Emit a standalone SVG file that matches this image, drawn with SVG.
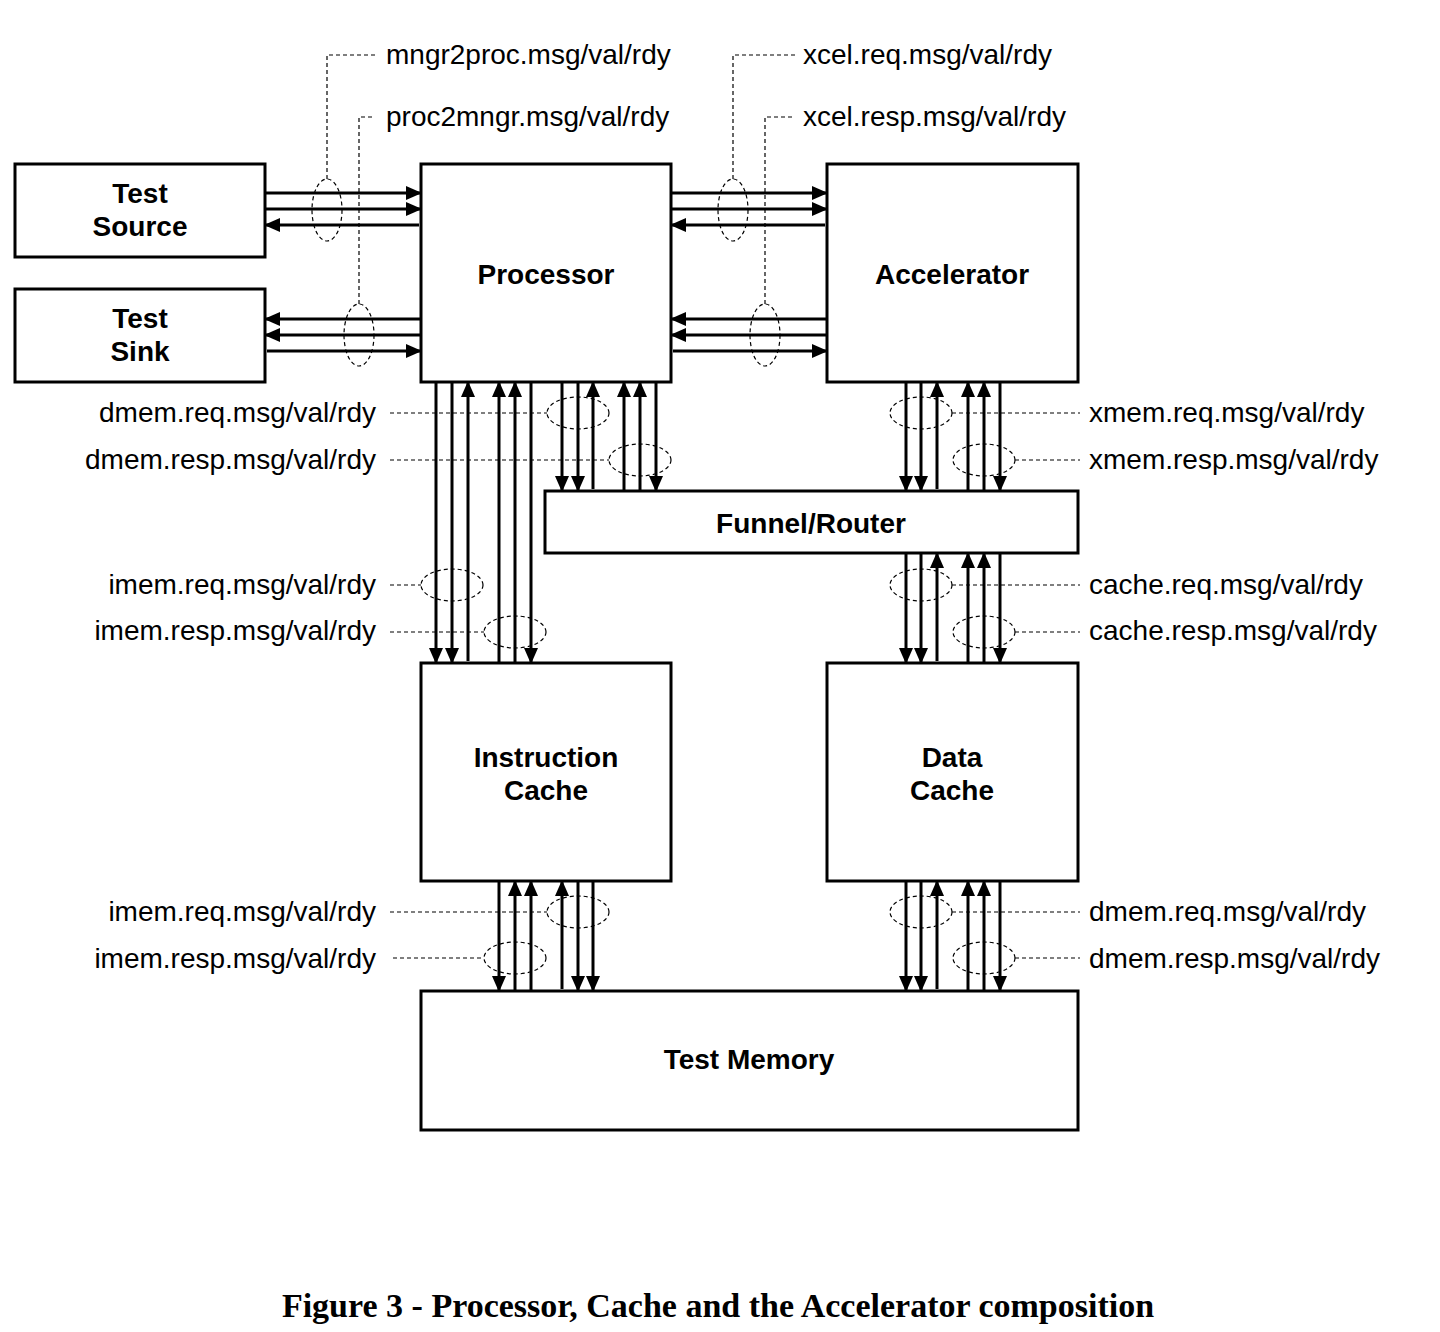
<svg xmlns="http://www.w3.org/2000/svg" width="1440" height="1332" viewBox="0 0 1440 1332">
<defs>
<marker id="ah" markerUnits="userSpaceOnUse" markerWidth="16" markerHeight="14" refX="15" refY="7" orient="auto"><path d="M0,0 L16,7 L0,14 Z" fill="#000"/></marker>
<style>
.box{fill:#fff;stroke:#000;stroke-width:3}
.t{font-family:"Liberation Sans",Arial,sans-serif;font-weight:bold;font-size:28px;text-anchor:middle}
.l{font-family:"Liberation Sans",Arial,sans-serif;font-size:28px}
.r{text-anchor:end}
.w{stroke:#000;stroke-width:3;fill:none}
.a{marker-end:url(#ah)}
.d{stroke:#000;stroke-width:1.2;stroke-dasharray:4,3;fill:none}
</style>
</defs>
<rect width="1440" height="1332" fill="#fff"/>
<g id="connectors">
<g class="w">
<line class="a" x1="265" y1="193" x2="421" y2="193"/>
<line class="a" x1="265" y1="209" x2="421" y2="209"/>
<line class="a" x1="419" y1="225" x2="265" y2="225"/>
<line class="a" x1="421" y1="319" x2="265" y2="319"/>
<line class="a" x1="421" y1="335" x2="265" y2="335"/>
<line class="a" x1="267" y1="351" x2="421" y2="351"/>
<line class="a" x1="671" y1="193" x2="827" y2="193"/>
<line class="a" x1="671" y1="209" x2="827" y2="209"/>
<line class="a" x1="825" y1="225" x2="671" y2="225"/>
<line class="a" x1="827" y1="319" x2="671" y2="319"/>
<line class="a" x1="827" y1="335" x2="671" y2="335"/>
<line class="a" x1="673" y1="351" x2="827" y2="351"/>
<!-- proc to icache -->
<line class="a" x1="436" y1="382" x2="436" y2="663"/>
<line class="a" x1="452" y1="382" x2="452" y2="663"/>
<line class="a" x1="468" y1="661" x2="468" y2="382"/>
<line class="a" x1="499" y1="663" x2="499" y2="382"/>
<line class="a" x1="515" y1="663" x2="515" y2="382"/>
<line class="a" x1="531" y1="382" x2="531" y2="663"/>
<!-- proc to funnel -->
<line class="a" x1="562" y1="382" x2="562" y2="491"/>
<line class="a" x1="578" y1="382" x2="578" y2="491"/>
<line class="a" x1="593" y1="489" x2="593" y2="382"/>
<line class="a" x1="624" y1="491" x2="624" y2="382"/>
<line class="a" x1="640" y1="491" x2="640" y2="382"/>
<line class="a" x1="656" y1="382" x2="656" y2="491"/>
<!-- accel to funnel -->
<line class="a" x1="906" y1="382" x2="906" y2="491"/>
<line class="a" x1="921" y1="382" x2="921" y2="491"/>
<line class="a" x1="937" y1="489" x2="937" y2="382"/>
<line class="a" x1="968" y1="491" x2="968" y2="382"/>
<line class="a" x1="984" y1="491" x2="984" y2="382"/>
<line class="a" x1="1000" y1="382" x2="1000" y2="491"/>
<!-- funnel to dcache -->
<line class="a" x1="906" y1="553" x2="906" y2="663"/>
<line class="a" x1="921" y1="553" x2="921" y2="663"/>
<line class="a" x1="937" y1="661" x2="937" y2="553"/>
<line class="a" x1="968" y1="663" x2="968" y2="553"/>
<line class="a" x1="984" y1="663" x2="984" y2="553"/>
<line class="a" x1="1000" y1="553" x2="1000" y2="663"/>
<!-- icache to mem -->
<line class="a" x1="499" y1="881" x2="499" y2="991"/>
<line class="a" x1="515" y1="991" x2="515" y2="881"/>
<line class="a" x1="531" y1="991" x2="531" y2="881"/>
<line class="a" x1="562" y1="989" x2="562" y2="881"/>
<line class="a" x1="578" y1="881" x2="578" y2="991"/>
<line class="a" x1="593" y1="881" x2="593" y2="991"/>
<!-- dcache to mem -->
<line class="a" x1="906" y1="881" x2="906" y2="991"/>
<line class="a" x1="921" y1="881" x2="921" y2="991"/>
<line class="a" x1="937" y1="989" x2="937" y2="881"/>
<line class="a" x1="968" y1="991" x2="968" y2="881"/>
<line class="a" x1="984" y1="991" x2="984" y2="881"/>
<line class="a" x1="1000" y1="881" x2="1000" y2="991"/>
</g>
<g class="d">
<ellipse cx="327" cy="210" rx="15" ry="31"/><polyline points="327,179 327,55 375,55"/>
<ellipse cx="359" cy="335" rx="15" ry="31"/><polyline points="359,304 359,117 375,117"/>
<ellipse cx="733" cy="210" rx="15" ry="31"/><polyline points="733,179 733,55 795,55"/>
<ellipse cx="765" cy="335" rx="15" ry="31"/><polyline points="765,304 765,117 795,117"/>
<ellipse cx="578" cy="413" rx="31" ry="16"/><line x1="390" y1="413" x2="547" y2="413"/>
<ellipse cx="640" cy="460" rx="31" ry="16"/><line x1="390" y1="460" x2="609" y2="460"/>
<ellipse cx="452" cy="585" rx="31" ry="16"/><line x1="390" y1="585" x2="421" y2="585"/>
<ellipse cx="515" cy="632" rx="31" ry="16"/><line x1="390" y1="632" x2="484" y2="632"/>
<ellipse cx="578" cy="912" rx="31" ry="16"/><line x1="390" y1="912" x2="547" y2="912"/>
<ellipse cx="515" cy="958" rx="31" ry="16"/><line x1="393" y1="958" x2="484" y2="958"/>
<ellipse cx="921" cy="413" rx="31" ry="16"/><line x1="952" y1="413" x2="1080" y2="413"/>
<ellipse cx="984" cy="460" rx="31" ry="16"/><line x1="1015" y1="460" x2="1080" y2="460"/>
<ellipse cx="921" cy="585" rx="31" ry="16"/><line x1="952" y1="585" x2="1080" y2="585"/>
<ellipse cx="984" cy="632" rx="31" ry="16"/><line x1="1015" y1="632" x2="1080" y2="632"/>
<ellipse cx="921" cy="912" rx="31" ry="16"/><line x1="952" y1="912" x2="1080" y2="912"/>
<ellipse cx="984" cy="958" rx="31" ry="16"/><line x1="1015" y1="958" x2="1080" y2="958"/>
</g>
</g>
<g id="testsource"><rect class="box" x="15" y="164" width="250" height="93"/><text class="t" x="140" y="203">Test</text><text class="t" x="140" y="236">Source</text></g>
<g id="testsink"><rect class="box" x="15" y="289" width="250" height="93"/><text class="t" x="140" y="328">Test</text><text class="t" x="140" y="361">Sink</text></g>
<g id="processor"><rect class="box" x="421" y="164" width="250" height="218"/><text class="t" x="546" y="284">Processor</text></g>
<g id="accelerator"><rect class="box" x="827" y="164" width="251" height="218"/><text class="t" x="952" y="284">Accelerator</text></g>
<g id="funnel"><rect class="box" x="545" y="491" width="533" height="62"/><text class="t" x="811" y="533">Funnel/Router</text></g>
<g id="icache"><rect class="box" x="421" y="663" width="250" height="218"/><text class="t" x="546" y="767">Instruction</text><text class="t" x="546" y="800">Cache</text></g>
<g id="dcache"><rect class="box" x="827" y="663" width="251" height="218"/><text class="t" x="952" y="767">Data</text><text class="t" x="952" y="800">Cache</text></g>
<g id="testmemory"><rect class="box" x="421" y="991" width="657" height="139"/><text class="t" x="749" y="1069">Test Memory</text></g>
<g id="labels">
<text class="l" x="386" y="64">mngr2proc.msg/val/rdy</text>
<text class="l" x="386" y="126">proc2mngr.msg/val/rdy</text>
<text class="l" x="803" y="64">xcel.req.msg/val/rdy</text>
<text class="l" x="803" y="126">xcel.resp.msg/val/rdy</text>
<text class="l r" x="376" y="422">dmem.req.msg/val/rdy</text>
<text class="l r" x="376" y="469">dmem.resp.msg/val/rdy</text>
<text class="l r" x="376" y="594">imem.req.msg/val/rdy</text>
<text class="l r" x="376" y="640">imem.resp.msg/val/rdy</text>
<text class="l r" x="376" y="921">imem.req.msg/val/rdy</text>
<text class="l r" x="376" y="968">imem.resp.msg/val/rdy</text>
<text class="l" x="1089" y="422">xmem.req.msg/val/rdy</text>
<text class="l" x="1089" y="469">xmem.resp.msg/val/rdy</text>
<text class="l" x="1089" y="594">cache.req.msg/val/rdy</text>
<text class="l" x="1089" y="640">cache.resp.msg/val/rdy</text>
<text class="l" x="1089" y="921">dmem.req.msg/val/rdy</text>
<text class="l" x="1089" y="968">dmem.resp.msg/val/rdy</text>
<text x="718" y="1317" text-anchor="middle" font-family="'Liberation Serif','Times New Roman',serif" font-weight="bold" font-size="34">Figure 3 - Processor, Cache and the Accelerator composition</text>
</g>
</svg>
